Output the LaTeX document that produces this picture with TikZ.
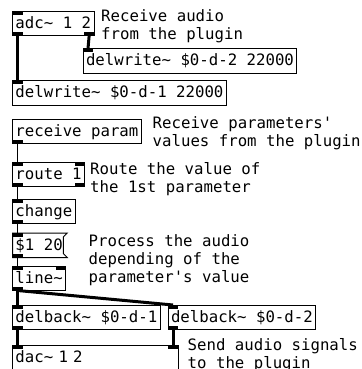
\documentclass[tikz,border=0pt]{standalone}
\usepackage{fontspec}
\setmonofont{DejaVu Sans Mono}
\begin{document}
\begin{tikzpicture}[x=1pt,y=-1pt]
  \tikzstyle{every node}=[font=\ttfamily\fontsize{15.7}{17}\selectfont]
  \tikzstyle{obj}=[draw,line width=1pt,outer sep=0pt,anchor=north west,inner xsep=3pt,inner ysep=4pt,text height=13pt,text depth=3.5pt]
  \tikzstyle{cmt}=[anchor=north west,inner sep=0pt,align=left]
  \tikzstyle{sig}=[line width=3pt]
  \tikzstyle{ctl}=[line width=1.2pt]
  \useasboundingbox[fill=white] (0,0) rectangle (361,369);
  % objects
  \node[obj] (adc) at (12.5,11.5) {adc\textasciitilde{} 1 2};
  \node[obj] (dwb) at (83,48.5) {delwrite\textasciitilde{} \$0-d-2 22000};
  \node[obj] (dwa) at (12.5,80.5) {delwrite\textasciitilde{} \$0-d-1 22000};
  \node[obj] (rcv) at (12.5,119) {receive param};
  \node[obj] (rte) at (12.5,162) {route 1};
  \node[obj] (chg) at (12.5,199) {change};
  \node[obj,draw=none] (msg) at (12.5,233) {\$1 20};
  \node[obj] (lin) at (12.5,266) {line\textasciitilde};
  \node[obj] (dba) at (12.5,305) {delback\textasciitilde{} \$0-d-1};
  \node[obj] (dbb) at (168,305) {delback\textasciitilde{} \$0-d-2};
  \node[obj,text width=159.5pt,align=left,text depth=14pt] (dac) at (12.5,345) {dac\textasciitilde{} 1 2};
  \draw[line width=1pt] (msg.north west) -- ([xshift=1.5pt]msg.north east)
    -- ([xshift=-2.5pt,yshift=-4pt]msg.north east) -- ([xshift=-2.5pt,yshift=4pt]msg.south east)
    -- ([xshift=1.5pt]msg.south east) -- (msg.south west) -- cycle;
  % inlets and outlets
  \foreach \n in {adc,dwb,dwa,rte,chg,msg,lin,dba,dbb,dac}
    \fill (\n.north west) rectangle ++(10,3.5);
  \foreach \n in {rte,lin,dac}
    \fill (\n.north east) rectangle ++(-10,3.5);
  \foreach \n in {adc,rcv,rte,chg,msg,lin,dba,dbb}
    \fill (\n.south west) rectangle ++(10,-3.5);
  \foreach \n in {adc,rte}
    \fill (\n.south east) rectangle ++(-10,-3.5);
  % connections
  \draw[sig] ([xshift=5pt]adc.south west) -- ([xshift=5pt]dwa.north west);
  \draw[sig] ([xshift=-5pt]adc.south east) -- ([xshift=5pt]dwb.north west);
  \draw[ctl] ([xshift=5pt]rcv.south west) -- ([xshift=5pt]rte.north west);
  \draw[ctl] ([xshift=5pt]rte.south west) -- ([xshift=5pt]chg.north west);
  \draw[ctl] ([xshift=5pt]chg.south west) -- ([xshift=5pt]msg.north west);
  \draw[ctl] ([xshift=5pt]msg.south west) -- ([xshift=5pt]lin.north west);
  \draw[sig] ([xshift=5pt]lin.south west) -- ([xshift=5pt]dba.north west);
  \draw[sig] ([xshift=5pt]lin.south west) -- ([xshift=5pt]dbb.north west);
  \draw[sig] ([xshift=5pt]dba.south west) -- ([xshift=5pt]dac.north west);
  \draw[sig] ([xshift=5pt]dbb.south west) -- ([xshift=-5pt]dac.north east);
  % comments
  \node[cmt] (c1) at (101,9.6) {\strut Receive audio\\\strut from the plugin};
  \node[cmt] (c2) at (152.5,116.4) {\strut Receive parameters'\\\strut values from the plugin};
  \node[cmt] (c3) at (90,162.1) {\strut Route the value of\\\strut the 1st parameter};
  \node[cmt] (c4) at (88.5,234.1) {\strut Process the audio\\\strut depending of the\\\strut parameter's value};
  \node[cmt] (c5) at (187.5,338.1) {\strut Send audio signals\\\strut to the plugin};
\end{tikzpicture}
\end{document}
